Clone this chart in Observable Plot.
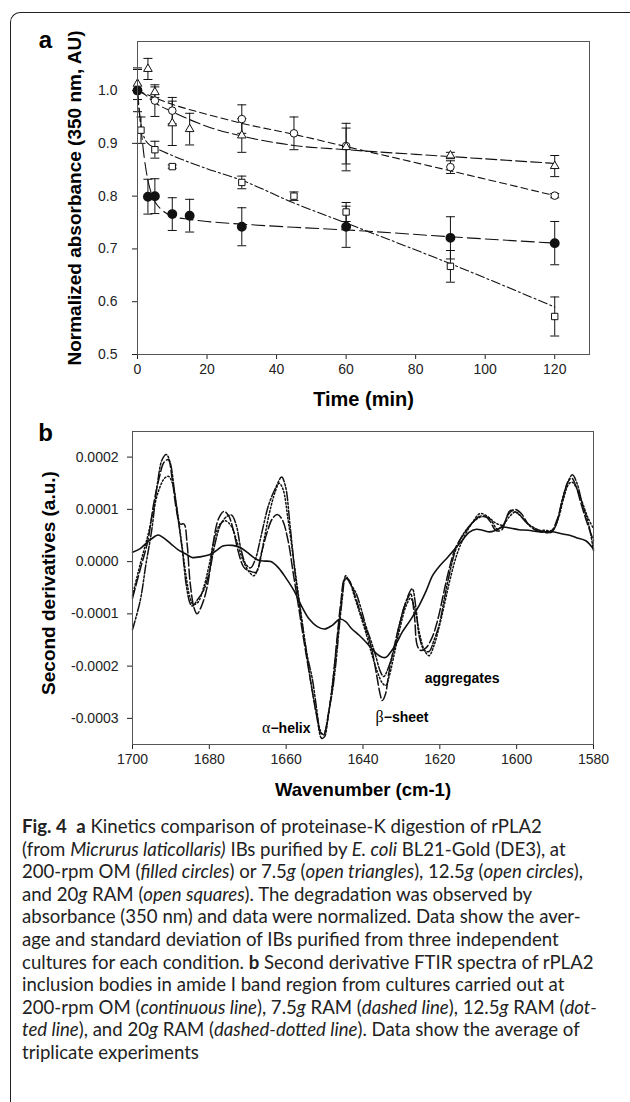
<!DOCTYPE html>
<html>
<head>
<meta charset="utf-8">
<script src="https://cdn.jsdelivr.net/npm/d3@7"></script>
<script src="https://cdn.jsdelivr.net/npm/@observablehq/plot@0.6"></script>
<style>
  html, body { margin: 0; padding: 0; background: #fff; }
  #page { position: relative; width: 630px; height: 1102px; overflow: hidden; background: #fff; }
  #border { position: absolute; left: 10px; top: 12px; width: 640px; height: 1200px;
            border-top: 1.3px solid #222; border-left: 1.3px solid #222; border-top-left-radius: 10px; }
  #pa { position: absolute; left: 0; top: 0; }
  #pb { position: absolute; left: 0; top: 415px; }
  #caption { position: absolute; left: 22px; top: 815px; font-family: Lato, "Open Sans", sans-serif;
             font-size: 18.6px; line-height: 22.6px; color: #222; }
  #caption div { white-space: nowrap; }
  #caption b { font-weight: 700; }
</style>
</head>
<body>
<div id="page">
  <div id="border"></div>
  <div id="pa"></div>
  <div id="pb"></div>
  <div id="caption">
    <div><b>Fig. 4</b>&nbsp; <b>a</b> Kinetics comparison of proteinase-K digestion of rPLA2</div>
    <div>(from <i>Micrurus laticollaris)</i> IBs purified by <i>E. coli</i> BL21-Gold (DE3), at</div>
    <div>200-rpm OM (<i>filled circles</i>) or 7.5<i>g</i> (<i>open triangles</i>), 12.5<i>g</i> (<i>open circles</i>),</div>
    <div>and 20<i>g</i> RAM (<i>open squares</i>). The degradation was observed by</div>
    <div>absorbance (350 nm) and data were normalized. Data show the aver-</div>
    <div>age and standard deviation of IBs purified from three independent</div>
    <div>cultures for each condition. <b>b</b> Second derivative FTIR spectra of rPLA2</div>
    <div>inclusion bodies in amide I band region from cultures carried out at</div>
    <div>200-rpm OM (<i>continuous line</i>), 7.5<i>g</i> RAM (<i>dashed line</i>), 12.5<i>g</i> RAM (<i>dot-</i></div>
    <div><i>ted line</i>), and 20<i>g</i> RAM (<i>dashed-dotted line</i>). Data show the average of</div>
    <div>triplicate experiments</div>
  </div>
</div>
<script>
// ---------- Panel a: proteinase-K kinetics ----------
const xTicksA = [0, 20, 40, 60, 80, 100, 120];
const yTicksA = [0.5, 0.6, 0.7, 0.8, 0.9, 1.0];

const timeFilled = [0, 3, 5, 10, 15, 30, 60, 90, 120];
const meanFilled = [1.0, 0.799, 0.800, 0.766, 0.763, 0.742, 0.742, 0.721, 0.711];
const sdFilled   = [0.0, 0.033, 0.033, 0.031, 0.031, 0.036, 0.039, 0.040, 0.041];

const timeTri = [0, 3, 5, 10, 15, 30, 60, 90, 120];
const meanTri = [1.013, 1.041, 0.997, 0.938, 0.927, 0.915, 0.893, 0.877, 0.857];
const sdTri   = [0.030, 0.020, 0.010, 0.042, 0.030, 0.032, 0.045, 0.006, 0.020];

const timeCirc = [0, 5, 10, 30, 45, 60, 90, 120];
const meanCirc = [1.0, 0.981, 0.962, 0.946, 0.919, 0.895, 0.855, 0.801];
const sdCirc   = [0.040, 0.030, 0.025, 0.027, 0.031, 0.034, 0.012, 0.004];

const timeSq = [0, 1, 5, 10, 30, 45, 60, 90, 120];
const meanSq = [1.0, 0.925, 0.888, 0.856, 0.826, 0.800, 0.770, 0.667, 0.572];
const sdSq   = [0.0, 0.025, 0.016, 0.003, 0.012, 0.008, 0.018, 0.030, 0.037];

// fitted curves
const fitFilledT = [0, 1, 2, 3, 4, 5, 7, 10, 15, 20, 30, 45, 60, 90, 120];
const fitFilledV = [1.0, 0.93, 0.87, 0.83, 0.805, 0.79, 0.774, 0.762, 0.756, 0.752, 0.747, 0.741, 0.736, 0.723, 0.711];
const fitTriT = [0, 2, 5, 10, 15, 20, 30, 45, 60, 90, 120];
const fitTriV = [1.0, 0.993, 0.977, 0.96, 0.945, 0.932, 0.914, 0.896, 0.888, 0.875, 0.862];
const fitCircT = [0, 10, 20, 30, 45, 60, 90, 120];
const fitCircV = [1.0, 0.974, 0.955, 0.938, 0.917, 0.894, 0.848, 0.801];
const fitSqT = [0, 0.5, 1, 2, 3, 5, 10, 20, 30, 45, 60, 90, 120];
const fitSqV = [1.0, 0.96, 0.935, 0.91, 0.9, 0.892, 0.877, 0.852, 0.83, 0.787, 0.749, 0.672, 0.59];

// ---------- Panel b: second-derivative FTIR spectra (values in units of 1e-4) ----------
const xTicksB = [1700, 1680, 1660, 1640, 1620, 1600, 1580];
const yTicksB = [-3, -2, -1, 0, 1, 2];

const specOM = [[1700,0.18],[1698,0.25],[1696,0.38],[1694,0.49],[1693.3,0.51],[1692,0.46],[1690,0.34],[1688,0.22],[1686,0.14],[1684.5,0.08],
  [1682.5,0.09],[1680,0.13],[1678,0.22],[1676.5,0.3],[1674,0.31],[1672,0.27],[1670,0.17],[1668.5,0.08],[1667,0.02],[1665.5,0.01],
  [1664,0.0],[1662,-0.12],[1660,-0.32],[1658,-0.55],[1656,-0.85],[1654,-1.1],[1652,-1.24],[1650,-1.29],[1648,-1.22],[1646,-1.1],
  [1644.5,-1.15],[1643,-1.28],[1641,-1.41],[1639.5,-1.52],[1638,-1.64],[1636.5,-1.76],[1635,-1.83],[1634,-1.83],[1632.5,-1.7],[1631,-1.52],
  [1629.8,-1.35],[1627.5,-1.1],[1625.4,-0.84],[1623.5,-0.55],[1621.9,-0.27],[1620,-0.08],[1618,0.08],[1616,0.25],[1614,0.42],[1612.4,0.56],
  [1610.5,0.62],[1608.9,0.6],[1607,0.57],[1605.5,0.6],[1603.7,0.66],[1601.5,0.64],[1599.4,0.61],[1597,0.6],[1594.2,0.57],[1590.7,0.57],
  [1588,0.53],[1586,0.5],[1584.6,0.46],[1582,0.4],[1580,0.24]];

const spec7_5g = [[1700,-0.7],[1698,-0.15],[1696,0.4],[1694.5,1.1],[1693,1.62],[1691.8,1.9],[1690.7,1.95],[1689.7,1.6],[1688.7,1.05],[1687.6,0.72],
  [1686.6,0.72],[1685.8,0.35],[1685,-0.4],[1684,-0.88],[1683.2,-1.0],[1682.2,-0.88],[1681,-0.62],[1680,-0.25],[1679,0.35],[1677.6,0.82],
  [1676.2,0.96],[1675,0.88],[1673.8,0.62],[1672.5,0.2],[1671,-0.11],[1669.5,-0.18],[1667.8,-0.2],[1666.5,0.15],[1665,0.55],[1663.6,0.82],
  [1662.3,0.9],[1661,0.8],[1659.5,0.4],[1658.2,-0.2],[1656.8,-0.85],[1655.2,-1.6],[1653.6,-2.3],[1652.2,-2.9],[1651,-3.28],[1650.2,-3.3],
  [1649.2,-3.0],[1648,-2.4],[1646.8,-1.5],[1645.8,-0.8],[1644.7,-0.32],[1643.7,-0.35],[1642.3,-0.6],[1640.8,-0.95],[1639.3,-1.28],[1637.8,-1.65],
  [1636.5,-2.15],[1635.5,-2.55],[1635,-2.66],[1634.2,-2.55],[1633.2,-2.1],[1631.8,-1.6],[1630.3,-1.15],[1628.8,-0.78],[1627.6,-0.62],[1626.6,-1.05],
  [1625.9,-1.6],[1625,-1.7],[1623.6,-1.65],[1622,-1.45],[1620.5,-1.1],[1619,-0.6],[1617.5,-0.12],[1616,0.25],[1614,0.5],[1612,0.7],
  [1610,0.85],[1608.5,0.88],[1607,0.78],[1605.5,0.6],[1604,0.6],[1602.2,0.9],[1600.5,1.0],[1598.8,0.92],[1597,0.72],[1595,0.6],
  [1593,0.56],[1591,0.58],[1589.5,0.8],[1588,1.2],[1586.7,1.52],[1585.7,1.6],[1584.6,1.45],[1583.2,1.1],[1581.7,0.75],[1580,0.4]];

const spec12_5g = [[1700,-0.65],[1698,-0.05],[1696,0.5],[1694.5,1.0],[1693,1.4],[1691.6,1.6],[1690.6,1.63],[1689.6,1.5],[1688.4,1.0],[1687.2,0.35],
  [1686,-0.3],[1685,-0.7],[1684.2,-0.82],[1683,-0.78],[1681.5,-0.5],[1680,-0.05],[1678.6,0.45],[1677.2,0.72],[1675.8,0.78],[1674.3,0.68],
  [1672.8,0.38],[1671.2,0.02],[1669.6,-0.2],[1668.4,-0.27],[1667.2,-0.1],[1665.8,0.4],[1664.3,0.95],[1662.8,1.35],[1661.8,1.5],[1660.8,1.38],
  [1659.5,0.8],[1658,0.0],[1656.5,-0.8],[1655,-1.6],[1653.5,-2.35],[1652,-2.95],[1651,-3.25],[1650.3,-3.32],[1649.5,-3.15],[1648.3,-2.55],
  [1647,-1.7],[1645.8,-0.9],[1644.7,-0.35],[1643.8,-0.35],[1642.3,-0.65],[1640.8,-1.0],[1639.3,-1.35],[1637.8,-1.75],[1636.3,-2.1],[1635,-2.32],
  [1634.1,-2.37],[1633.2,-2.2],[1631.8,-1.75],[1630.3,-1.25],[1628.8,-0.85],[1627.6,-0.7],[1626.4,-0.95],[1625.2,-1.4],[1624,-1.7],[1622.8,-1.8],
  [1621.5,-1.6],[1620,-1.2],[1618.6,-0.75],[1617.2,-0.3],[1615.5,0.15],[1613.5,0.5],[1611.5,0.75],[1609.5,0.92],[1607.5,0.86],[1605.5,0.74],
  [1603.7,0.7],[1602,0.85],[1600.3,0.95],[1598.6,0.85],[1596.8,0.7],[1594.8,0.6],[1592.8,0.6],[1590.8,0.6],[1589.2,0.82],[1587.8,1.2],
  [1586.5,1.48],[1585.6,1.52],[1584.5,1.42],[1583,1.15],[1581.5,0.85],[1580,0.63]];

const spec20g = [[1700,-1.3],[1698,-0.75],[1696.5,-0.05],[1695,0.6],[1693.5,1.5],[1692.3,1.95],[1691.2,2.05],[1690.2,1.9],[1689,1.3],[1688,0.75],
  [1687,0.2],[1686,-0.45],[1685,-0.8],[1684.4,-0.85],[1683,-0.72],[1681.5,-0.55],[1680,-0.2],[1678.5,0.35],[1677,0.72],[1675.5,0.86],
  [1674.2,0.89],[1673,0.7],[1671.8,0.25],[1670.5,-0.05],[1669.3,-0.12],[1668,0.05],[1666.5,0.5],[1664.5,1.1],[1662.5,1.45],[1661.2,1.62],
  [1660.2,1.45],[1659,0.7],[1657.6,-0.27],[1656.3,-0.94],[1654.5,-1.8],[1653.2,-2.24],[1652,-2.85],[1650.8,-3.38],[1650,-3.35],[1649,-2.9],
  [1648,-2.5],[1647,-1.9],[1646.3,-1.35],[1645.4,-0.71],[1644.5,-0.27],[1643.5,-0.4],[1641.9,-0.59],[1640.5,-0.9],[1639.3,-1.22],[1638,-1.5],
  [1636.7,-1.8],[1635.5,-2.1],[1634.6,-2.2],[1633.5,-2.05],[1632,-1.7],[1630.5,-1.2],[1629,-0.8],[1627.2,-0.52],[1626.2,-0.9],[1625.3,-1.45],
  [1624,-1.7],[1622.8,-1.72],[1621.5,-1.5],[1620.2,-1.22],[1618.8,-0.7],[1617.6,-0.27],[1616,0.2],[1614.5,0.45],[1613,0.62],[1611,0.78],
  [1609,0.86],[1607,0.82],[1605,0.62],[1603.5,0.7],[1601.6,0.98],[1599.4,0.9],[1597.5,0.75],[1595.5,0.65],[1593,0.57],[1591,0.56],
  [1589.5,0.75],[1588.1,1.2],[1586.5,1.55],[1585.5,1.66],[1584.3,1.5],[1583,1.13],[1581.2,0.69],[1580,0.21]];

// annotation labels (greek part, word part, wavenumber, value)
const annGreek = ["α", "β", ""];
const annWord  = ["−helix", "−sheet", "aggregates"];
const annWn    = [1664.1, 1634.6, 1614.2];
const annVal   = [-3.19, -2.98, -2.24];

// ---------- helpers ----------
const zipPts = (ts, vs, sds) => ts.map((t, i) => ({t, v: vs[i], lo: vs[i] - (sds ? sds[i] : 0), hi: vs[i] + (sds ? sds[i] : 0)}));
const ptsFilled = zipPts(timeFilled, meanFilled, sdFilled);
const ptsTri = zipPts(timeTri, meanTri, sdTri);
const ptsCirc = zipPts(timeCirc, meanCirc, sdCirc);
const ptsSq = zipPts(timeSq, meanSq, sdSq);
const allPts = [...ptsFilled, ...ptsTri, ...ptsCirc, ...ptsSq].filter(d => d.hi - d.lo > 0.001);

const capSymbol = {
  draw(ctx, size) {
    const r = Math.sqrt(size / Math.PI);
    ctx.moveTo(-r, 0);
    ctx.lineTo(r, 0);
  }
};

const axisFont = "'Liberation Sans', Arial, sans-serif";
const ink = "#111";

const fitLine = (ts, vs, dash) => Plot.line(zipPts(ts, vs), {x: "t", y: "v", curve: "monotone-x", stroke: ink, strokeWidth: 1.1, strokeDasharray: dash});

const plotA = Plot.plot({
  width: 630, height: 415,
  marginLeft: 137, marginRight: 41, marginTop: 41, marginBottom: 61,
  style: {fontFamily: axisFont, fontSize: "14px", color: "#222", background: "transparent"},
  x: {domain: [0, 130], ticks: xTicksA, tickFormat: d => String(d), tickSize: 5, tickPadding: 5, label: null},
  y: {domain: [0.5, 1.093], ticks: yTicksA, tickFormat: d => d.toFixed(1), tickSize: 5, tickPadding: 15, label: null},
  marks: [
    fitLine(fitFilledT, fitFilledV, "13,5"),
    fitLine(fitTriT, fitTriV, "11,4"),
    fitLine(fitCircT, fitCircV, "7,4"),
    fitLine(fitSqT, fitSqV, "9,3,2,3"),
    Plot.ruleX(allPts, {x: "t", y1: "lo", y2: "hi", stroke: ink, strokeWidth: 1}),
    Plot.dot(allPts, {x: "t", y: "lo", symbol: capSymbol, r: 4.5, stroke: ink, fill: "none", strokeWidth: 1}),
    Plot.dot(allPts, {x: "t", y: "hi", symbol: capSymbol, r: 4.5, stroke: ink, fill: "none", strokeWidth: 1}),
    Plot.dot(ptsSq, {x: "t", y: "v", symbol: "square", r: 3.6, stroke: ink, fill: "white", strokeWidth: 1}),
    Plot.dot(ptsCirc, {x: "t", y: "v", symbol: "circle", r: 3.8, stroke: ink, fill: "white", strokeWidth: 1}),
    Plot.dot(ptsTri, {x: "t", y: "v", symbol: "triangle", r: 3.2, stroke: ink, fill: "white", strokeWidth: 1}),
    Plot.dot(ptsFilled, {x: "t", y: "v", symbol: "circle", r: 4.2, fill: ink, stroke: ink}),
    Plot.frame({stroke: "#555", strokeWidth: 1}),
    Plot.text(["a"], {frameAnchor: "top-left", dx: -92, dy: -1, fontSize: 24, fontWeight: "bold", fill: "#000", lineAnchor: "middle", textAnchor: "middle"}),
    Plot.text(["Normalized absorbance (350 nm, AU)"], {frameAnchor: "left", dx: -63, rotate: -90, fontSize: 19, fontWeight: "bold", fill: "#000", textAnchor: "middle", lineAnchor: "middle"}),
    Plot.text(["Time (min)"], {frameAnchor: "bottom", dy: 45, fontSize: 20, fontWeight: "bold", fill: "#000", textAnchor: "middle", lineAnchor: "middle"})
  ]
});
document.getElementById("pa").appendChild(plotA);

const specRows = pts => pts.map(([w, v]) => ({w, v}));
const specLine = (pts, dash, sw) => Plot.line(specRows(pts), {x: "w", y: "v", curve: "catmull-rom", stroke: ink, strokeWidth: sw, strokeDasharray: dash});

const annRows = annWord.map((word, i) => ({g: annGreek[i], word, w: annWn[i], v: annVal[i]}));

const plotB = Plot.plot({
  width: 630, height: 415,
  marginLeft: 132, marginRight: 37, marginTop: 16, marginBottom: 86,
  style: {fontFamily: axisFont, fontSize: "14px", color: "#222", background: "transparent"},
  x: {domain: [1700, 1580], ticks: xTicksB, tickFormat: d => String(d), tickSize: 5, tickPadding: 5, label: null},
  y: {domain: [-3.5, 2.49], ticks: yTicksB, tickFormat: d => (d * 1e-4).toFixed(4), tickSize: 5, tickPadding: 9, label: null},
  marks: [
    specLine(specOM, null, 1.6),
    specLine(spec7_5g, "10,3", 1.5),
    specLine(spec12_5g, "1.5,2.2", 1.5),
    specLine(spec20g, "9,2,2,2,2,2", 1.5),
    Plot.frame({stroke: "#555", strokeWidth: 1}),
    Plot.text(annRows.filter(d => d.g), {x: "w", y: "v", text: "g", textAnchor: "end", fontFamily: "'Liberation Serif', serif", fontSize: 16, fill: "#000"}),
    Plot.text(annRows.filter(d => d.g), {x: "w", y: "v", text: "word", textAnchor: "start", fontSize: 14, fontWeight: "bold", fill: "#000"}),
    Plot.text(annRows.filter(d => !d.g), {x: "w", y: "v", text: "word", textAnchor: "middle", fontSize: 14, fontWeight: "bold", fill: "#000"}),
    Plot.text(["b"], {frameAnchor: "top-left", dx: -87, dy: 2, fontSize: 24, fontWeight: "bold", fill: "#000", lineAnchor: "middle", textAnchor: "middle"}),
    Plot.text(["Second derivatives (a.u.)"], {frameAnchor: "left", dx: -84, dy: -5, rotate: -90, fontSize: 19, fontWeight: "bold", fill: "#000", textAnchor: "middle", lineAnchor: "middle"}),
    Plot.text(["Wavenumber (cm-1)"], {frameAnchor: "bottom", dy: 46, fontSize: 18.5, fontWeight: "bold", fill: "#000", textAnchor: "middle", lineAnchor: "middle"})
  ]
});
document.getElementById("pb").appendChild(plotB);
</script>
</body>
</html>
